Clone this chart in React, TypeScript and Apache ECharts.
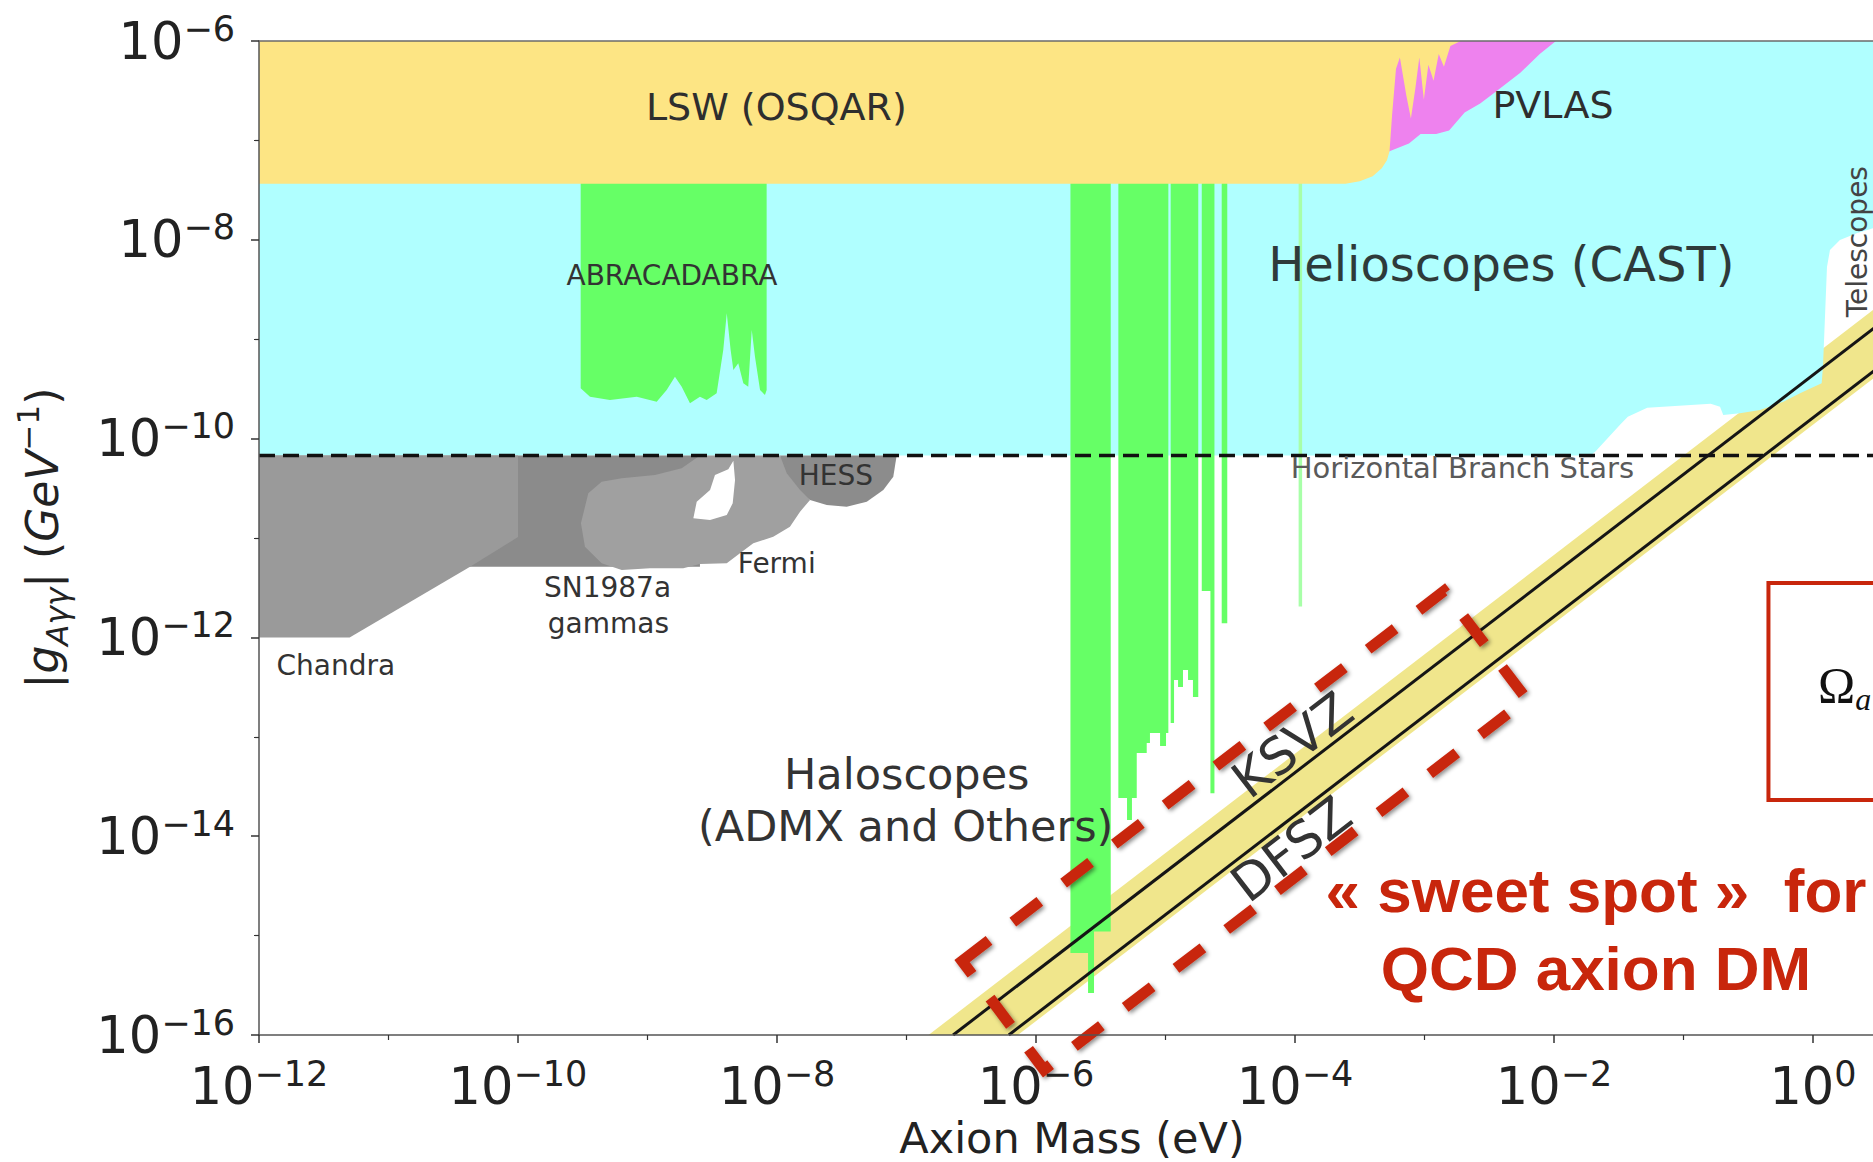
import React, { useEffect, useRef } from "react";
import * as echarts from "echarts";

type Pt = [number, number];

// Every coordinate below is a decade exponent:
// x = log10(m_a / eV), y = log10(|g_Aγγ| / GeV^-1)

const massRange: Pt = [-12, 0.556];
const couplingRange: Pt = [-16, -6];

// Helioscopes (CAST) exclusion, upper part of the plane
const castHelioscope: Pt[] = [
  [-12, -6], [0.556, -6], [0.556, -7.86], [0.463, -7.884], [0.337, -7.935], [0.208, -8.002],
  [0.131, -8.103], [0.108, -8.274], [0.077, -9.28], [0.067, -9.444], [-0.1, -9.544],
  [-0.229, -9.629], [-0.409, -9.712], [-0.564, -9.746], [-0.693, -9.763], [-0.718, -9.679],
  [-0.79, -9.65], [-1.28, -9.69], [-1.43, -9.78], [-1.49, -9.86], [-1.68, -10.13],
  [-1.72, -10.17], [-12, -10.17],
];

// Light-shining-through-wall (OSQAR)
const lswOsqar: Pt[] = [
  [-12, -6], [-2.72, -6], [-2.8, -6.05], [-2.85, -6.26], [-2.89, -6.13], [-2.93, -6.4],
  [-2.97, -6.24], [-3.005, -6.59], [-3.04, -6.165], [-3.07, -6.47], [-3.105, -6.78],
  [-3.14, -6.55], [-3.19, -6.165], [-3.22, -6.28], [-3.25, -6.74], [-3.27, -7.11],
  [-3.29, -7.2], [-3.33, -7.28], [-3.4, -7.36], [-3.5, -7.41], [-3.61, -7.436], [-12, -7.436],
];

// PVLAS
const pvlas: Pt[] = [
  [-3.35, -6], [-1.985, -6], [-2.11, -6.13], [-2.26, -6.32], [-2.45, -6.51], [-2.57, -6.63],
  [-2.69, -6.72], [-2.81, -6.9], [-2.91, -6.935], [-3.03, -6.935], [-3.12, -7.03],
  [-3.27, -7.11], [-3.35, -7.15],
];

// ABRACADABRA
const abracadabra: Pt[] = [
  [-9.516, -6], [-9.516, -9.494], [-9.444, -9.578], [-9.29, -9.612], [-9.083, -9.578],
  [-8.929, -9.629], [-8.852, -9.511], [-8.788, -9.377], [-8.736, -9.478], [-8.672, -9.645],
  [-8.595, -9.578], [-8.543, -9.612], [-8.466, -9.544], [-8.415, -9.109], [-8.388, -8.739],
  [-8.358, -9.109], [-8.337, -9.31], [-8.299, -9.243], [-8.26, -9.444], [-8.222, -9.478],
  [-8.195, -8.907], [-8.17, -9.176], [-8.131, -9.511], [-8.093, -9.561], [-8.08, -9.511],
  [-8.08, -6],
];

// Haloscope (ADMX and others) exclusions
const haloscopeBars: Pt[][] = [
  [[-5.734, -6], [-5.734, -15.175], [-5.598, -15.175], [-5.598, -15.577], [-5.552, -15.577],
    [-5.552, -14.96], [-5.423, -14.96], [-5.423, -6]],
  [[-5.364, -6], [-5.364, -13.616], [-5.297, -13.616], [-5.297, -13.837], [-5.259, -13.837],
    [-5.259, -13.616], [-5.222, -13.616], [-5.222, -13.163], [-5.145, -13.163], [-5.145, -13.062],
    [-5.12, -13.062], [-5.12, -12.962], [-5.042, -12.962], [-5.042, -13.093], [-4.996, -13.093],
    [-4.996, -12.962], [-4.978, -12.962], [-4.978, -6]],
  [[-4.96, -6], [-4.96, -12.861], [-4.934, -12.861], [-4.934, -12.429], [-4.903, -12.429],
    [-4.903, -12.499], [-4.865, -12.499], [-4.865, -12.328], [-4.826, -12.328], [-4.826, -12.429],
    [-4.788, -12.429], [-4.788, -12.6], [-4.747, -12.6], [-4.747, -6]],
  [[-4.72, -6], [-4.72, -11.533], [-4.645, -11.533], [-4.645, -6]],
  [[-4.653, -6], [-4.653, -13.568], [-4.622, -13.568], [-4.622, -6]],
  [[-4.566, -6], [-4.566, -11.858], [-4.523, -11.858], [-4.523, -6]],
];
const haloscopeFaint: Pt[] = [[-3.972, -6], [-3.972, -11.69], [-3.945, -11.69], [-3.945, -6]];

// Astrophysical bounds below the horizontal-branch line
const sn1987a: Pt[] = [[-12, -10.17], [-8.595, -10.17], [-8.595, -11.29], [-12, -11.29]];
const chandra: Pt[] = [
  [-12, -10.17], [-10.0, -10.17], [-10.0, -10.99], [-10.37, -11.29], [-11.3, -12.0], [-12, -12.0],
];
const fermi: Pt[] = [
  [-9.354, -10.434], [-9.199, -10.399], [-8.942, -10.366], [-8.736, -10.299], [-8.595, -10.17],
  [-7.977, -10.17], [-7.745, -10.618], [-7.822, -10.735], [-7.9, -10.886], [-8.029, -10.987],
  [-8.183, -11.053], [-8.286, -11.154], [-8.388, -11.255], [-8.595, -11.262], [-8.724, -11.305],
  [-8.981, -11.305], [-9.199, -11.322], [-9.354, -11.255], [-9.483, -11.088], [-9.514, -10.852],
  [-9.457, -10.55],
];
const fermiGap: Pt[] = [
  [-8.646, -10.802], [-8.62, -10.635], [-8.517, -10.517], [-8.479, -10.366], [-8.376, -10.309],
  [-8.337, -10.222], [-8.324, -10.416], [-8.342, -10.651], [-8.388, -10.769], [-8.517, -10.819],
];
const hess: Pt[] = [
  [-7.977, -10.17], [-7.076, -10.17], [-7.102, -10.383], [-7.179, -10.517], [-7.307, -10.635],
  [-7.462, -10.685], [-7.616, -10.668], [-7.745, -10.618], [-7.822, -10.517], [-7.925, -10.349],
];

// QCD axion band and model lines
const bandUpper: Pt[] = [[-6.83, -16], [0.556, -8.614]];
const bandLower: Pt[] = [[0.556, -9.304], [-6.14, -16]];
const ksvzLine: Pt[] = [[-6.64, -16], [0.556, -8.804]];
const dfszLine: Pt[] = [[-6.21, -16], [0.556, -9.234]];
const horizontalBranch: Pt[] = [[-12, -10.17], [0.556, -10.17]];

// Highlighted region and side box
const sweetSpotFrame: Pt[] = [[-6.571, -15.256], [-2.849, -11.533], [-2.211, -12.621], [-5.938, -16.35]];
const relicBox: Pt[] = [[-0.344, -11.453], [0.75, -13.636]];

const regionLabels = [
  { text: "LSW (OSQAR)", at: [-8.005, -6.669], style: "lsw" },
  { text: "PVLAS", at: [-2.008, -6.644], style: "lsw" },
  { text: "ABRACADABRA", at: [-8.811, -8.364], style: "small" },
  { text: "Helioscopes (CAST)", at: [-2.407, -8.243], style: "large" },
  { text: "Horizontal Branch Stars", at: [-2.707, -10.296], style: "faint" },
  { text: "HESS", at: [-7.546, -10.374], style: "small" },
  { text: "Fermi", at: [-8.002, -11.252], style: "small" },
  { text: "SN1987a", at: [-9.309, -11.493], style: "small" },
  { text: "gammas", at: [-9.302, -11.861], style: "small" },
  { text: "Chandra", at: [-11.407, -12.278], style: "small" },
  { text: "Haloscopes", at: [-6.998, -13.374], style: "medium" },
  { text: "(ADMX and Others)", at: [-7.006, -13.897], style: "medium" },
  { text: "KSVZ", at: [-4.019, -13.083], style: "model" },
  { text: "DFSZ", at: [-4.028, -14.131], style: "model" },
  { text: "Telescopes", at: [0.345, -8.019], style: "vertical" },
];

const calloutLines = [
  { text: "\u00ab sweet spot \u00bb  for", at: [-1.676, -14.55] },
  { text: "QCD axion DM", at: [-1.676, -15.33] },
];
const relicSymbol = { text: "{o|\u03a9}{s|a}", at: [0.039, -12.48] };

const SANS = "DejaVu Sans";
const INK = "#222222";
const RED = "#c8260c";

const labelStyles: Record<string, { size: number; color: string; rotate: number }> = {
  lsw: { size: 38, color: "#2e2e2e", rotate: 0 },
  small: { size: 28, color: "#333333", rotate: 0 },
  large: { size: 48, color: "#2e3a3a", rotate: 0 },
  medium: { size: 43, color: "#333333", rotate: 0 },
  faint: { size: 29, color: "#5a5a5a", rotate: 0 },
  model: { size: 51, color: "#333333", rotate: 37.5 },
  vertical: { size: 28, color: "#444444", rotate: 90 },
};

const fillLayers = [
  { pts: [...bandUpper, ...bandLower], color: "#f0e68c" },
  { pts: castHelioscope, color: "#b0ffff" },
  { pts: abracadabra, color: "#66ff66" },
  ...haloscopeBars.map((pts) => ({ pts, color: "#66ff66" })),
  { pts: haloscopeFaint, color: "#a8ffa8" },
  { pts: sn1987a, color: "#8b8b8b" },
  { pts: chandra, color: "#9a9a9a" },
  { pts: fermi, color: "#a0a0a0" },
  { pts: fermiGap, color: "#ffffff" },
  { pts: hess, color: "#8c8c8c" },
  { pts: pvlas, color: "#ee82ee" },
  { pts: lswOsqar, color: "#fde584" },
];

const powerLabel = (v: number) => {
  const n = Math.round(v);
  if (Math.abs(v - n) > 1e-6 || n % 2 !== 0) return "";
  return `{b|10}{e|${n < 0 ? "\u2212" : ""}${Math.abs(n)}}`;
};

const tickRich = {
  b: { fontSize: 51, lineHeight: 60, fontFamily: SANS, color: INK },
  e: { fontSize: 35, lineHeight: 35, verticalAlign: "top", fontFamily: SANS, color: INK },
};

const axisCommon = {
  type: "value",
  z: 10,
  splitLine: { show: false },
  axisLine: { onZero: false, lineStyle: { color: "#555555", width: 1.5 } },
  axisTick: { length: 8, lineStyle: { color: "#333333", width: 1.5 } },
  minorTick: { show: true, splitNumber: 2, length: 5, lineStyle: { color: "#333333", width: 1.2 } },
  minorSplitLine: { show: false },
};

function buildOption() {
  return {
    animation: false,
    backgroundColor: "#ffffff",
    textStyle: { fontFamily: SANS },
    grid: { left: 259, top: 41, width: 1626, height: 994, outerBoundsMode: "none", containLabel: false },
    xAxis: [
      {
        ...axisCommon,
        min: massRange[0],
        max: massRange[1],
        interval: 2,
        name: "Axion Mass (eV)",
        nameLocation: "middle",
        nameGap: 78,
        nameTextStyle: { fontSize: 43, lineHeight: 44, fontFamily: SANS, color: INK },
        axisLabel: { formatter: powerLabel, rich: tickRich, margin: 21 },
      },
      {
        type: "value",
        position: "top",
        z: 10,
        min: massRange[0],
        max: massRange[1],
        axisLine: { onZero: false, lineStyle: { color: "#6a6a6a", width: 1.5 } },
        axisTick: { show: false },
        axisLabel: { show: false },
        splitLine: { show: false },
      },
    ],
    yAxis: {
      ...axisCommon,
      min: couplingRange[0],
      max: couplingRange[1],
      interval: 2,
      name: "{p||}{i|g}{s|A\u03b3\u03b3}{p||}{p| (}{i|GeV}{u|\u22121}{p|)}",
      nameLocation: "middle",
      nameRotate: 90,
      nameGap: 187,
      nameTextStyle: {
        color: INK,
        rich: {
          p: { fontSize: 44, lineHeight: 60, fontFamily: SANS, color: INK },
          i: { fontSize: 44, lineHeight: 60, fontFamily: SANS, fontStyle: "italic", color: INK },
          s: { fontSize: 31, lineHeight: 31, fontFamily: SANS, fontStyle: "italic", verticalAlign: "bottom", color: INK },
          u: { fontSize: 31, lineHeight: 31, fontFamily: SANS, verticalAlign: "top", color: INK },
        },
      },
      axisLabel: { formatter: powerLabel, rich: tickRich, margin: 24 },
    },
    series: [
      {
        type: "custom",
        name: "exclusions",
        coordinateSystem: "cartesian2d",
        clip: true,
        silent: true,
        z: 2,
        data: fillLayers.map((l) => l.pts[0]),
        renderItem: (params: any, api: any) => {
          const layer = fillLayers[params.dataIndex];
          return {
            type: "polygon",
            z2: params.dataIndex,
            shape: { points: layer.pts.map((p) => api.coord(p)) },
            style: { fill: layer.color, stroke: null },
          };
        },
      },
      {
        type: "line",
        name: "Horizontal Branch Stars",
        data: horizontalBranch,
        symbol: "none",
        silent: true,
        z: 3,
        lineStyle: { color: "#111111", width: 3.5, type: [16, 8] },
      },
      {
        type: "line",
        name: "KSVZ",
        data: ksvzLine,
        symbol: "none",
        silent: true,
        z: 3,
        lineStyle: { color: "#151515", width: 3 },
      },
      {
        type: "line",
        name: "DFSZ",
        data: dfszLine,
        symbol: "none",
        silent: true,
        z: 3,
        lineStyle: { color: "#151515", width: 3 },
      },
      {
        type: "custom",
        name: "labels",
        coordinateSystem: "cartesian2d",
        clip: false,
        silent: true,
        z: 4,
        data: regionLabels.map((l) => l.at),
        renderItem: (params: any, api: any) => {
          const l = regionLabels[params.dataIndex];
          const s = labelStyles[l.style];
          const [x, y] = api.coord(l.at);
          return {
            type: "text",
            x,
            y,
            rotation: (s.rotate * Math.PI) / 180,
            style: {
              text: l.text,
              fill: s.color,
              fontSize: s.size,
              fontFamily: SANS,
              align: "center",
              verticalAlign: "middle",
            },
          };
        },
      },
      {
        type: "custom",
        name: "sweet spot",
        coordinateSystem: "cartesian2d",
        clip: false,
        silent: true,
        z: 5,
        data: [sweetSpotFrame[0]],
        renderItem: (_params: any, api: any) => ({
          type: "polygon",
          shape: { points: sweetSpotFrame.map((p) => api.coord(p)) },
          style: {
            fill: null,
            stroke: RED,
            lineWidth: 11,
            lineDash: [34, 30],
            shadowBlur: 4,
            shadowColor: "rgba(0,0,0,0.45)",
            shadowOffsetX: 2,
            shadowOffsetY: 2,
          },
        }),
      },
      {
        type: "custom",
        name: "relic box",
        coordinateSystem: "cartesian2d",
        clip: false,
        silent: true,
        z: 5,
        data: [relicBox[0]],
        renderItem: (_params: any, api: any) => {
          const a = api.coord(relicBox[0]);
          const b = api.coord(relicBox[1]);
          const o = api.coord(relicSymbol.at);
          return {
            type: "group",
            children: [
              {
                type: "rect",
                shape: { x: a[0], y: a[1], width: b[0] - a[0], height: b[1] - a[1] },
                style: { fill: null, stroke: RED, lineWidth: 4 },
              },
              {
                type: "text",
                x: o[0],
                y: o[1],
                style: {
                  text: relicSymbol.text,
                  align: "left",
                  verticalAlign: "middle",
                  rich: {
                    o: { fontSize: 50, lineHeight: 60, fontFamily: "Liberation Serif", fill: "#111111" },
                    s: {
                      fontSize: 32,
                      lineHeight: 32,
                      fontStyle: "italic",
                      fontFamily: "Liberation Serif",
                      verticalAlign: "bottom",
                      fill: "#111111",
                    },
                  },
                },
              },
            ],
          };
        },
      },
      {
        type: "custom",
        name: "callout",
        coordinateSystem: "cartesian2d",
        clip: false,
        silent: true,
        z: 5,
        data: calloutLines.map((c) => c.at),
        renderItem: (params: any, api: any) => {
          const c = calloutLines[params.dataIndex];
          const [x, y] = api.coord(c.at);
          return {
            type: "text",
            x,
            y,
            style: {
              text: c.text,
              fill: RED,
              fontSize: 62,
              fontWeight: "bold",
              fontFamily: "Liberation Sans",
              align: "center",
              verticalAlign: "middle",
            },
          };
        },
      },
    ],
  };
}

export default function App() {
  const ref = useRef<HTMLDivElement>(null);
  useEffect(() => {
    const chart = echarts.init(ref.current!, undefined, { renderer: "svg" });
    chart.setOption(buildOption() as any);
    return () => chart.dispose();
  }, []);
  return (
    <div
      style={{
        position: "fixed",
        left: 0,
        top: 0,
        width: 1873,
        height: 1162,
        overflow: "hidden",
        background: "#ffffff",
      }}
    >
      <div ref={ref} style={{ width: 1900, height: 1162 }} />
    </div>
  );
}
